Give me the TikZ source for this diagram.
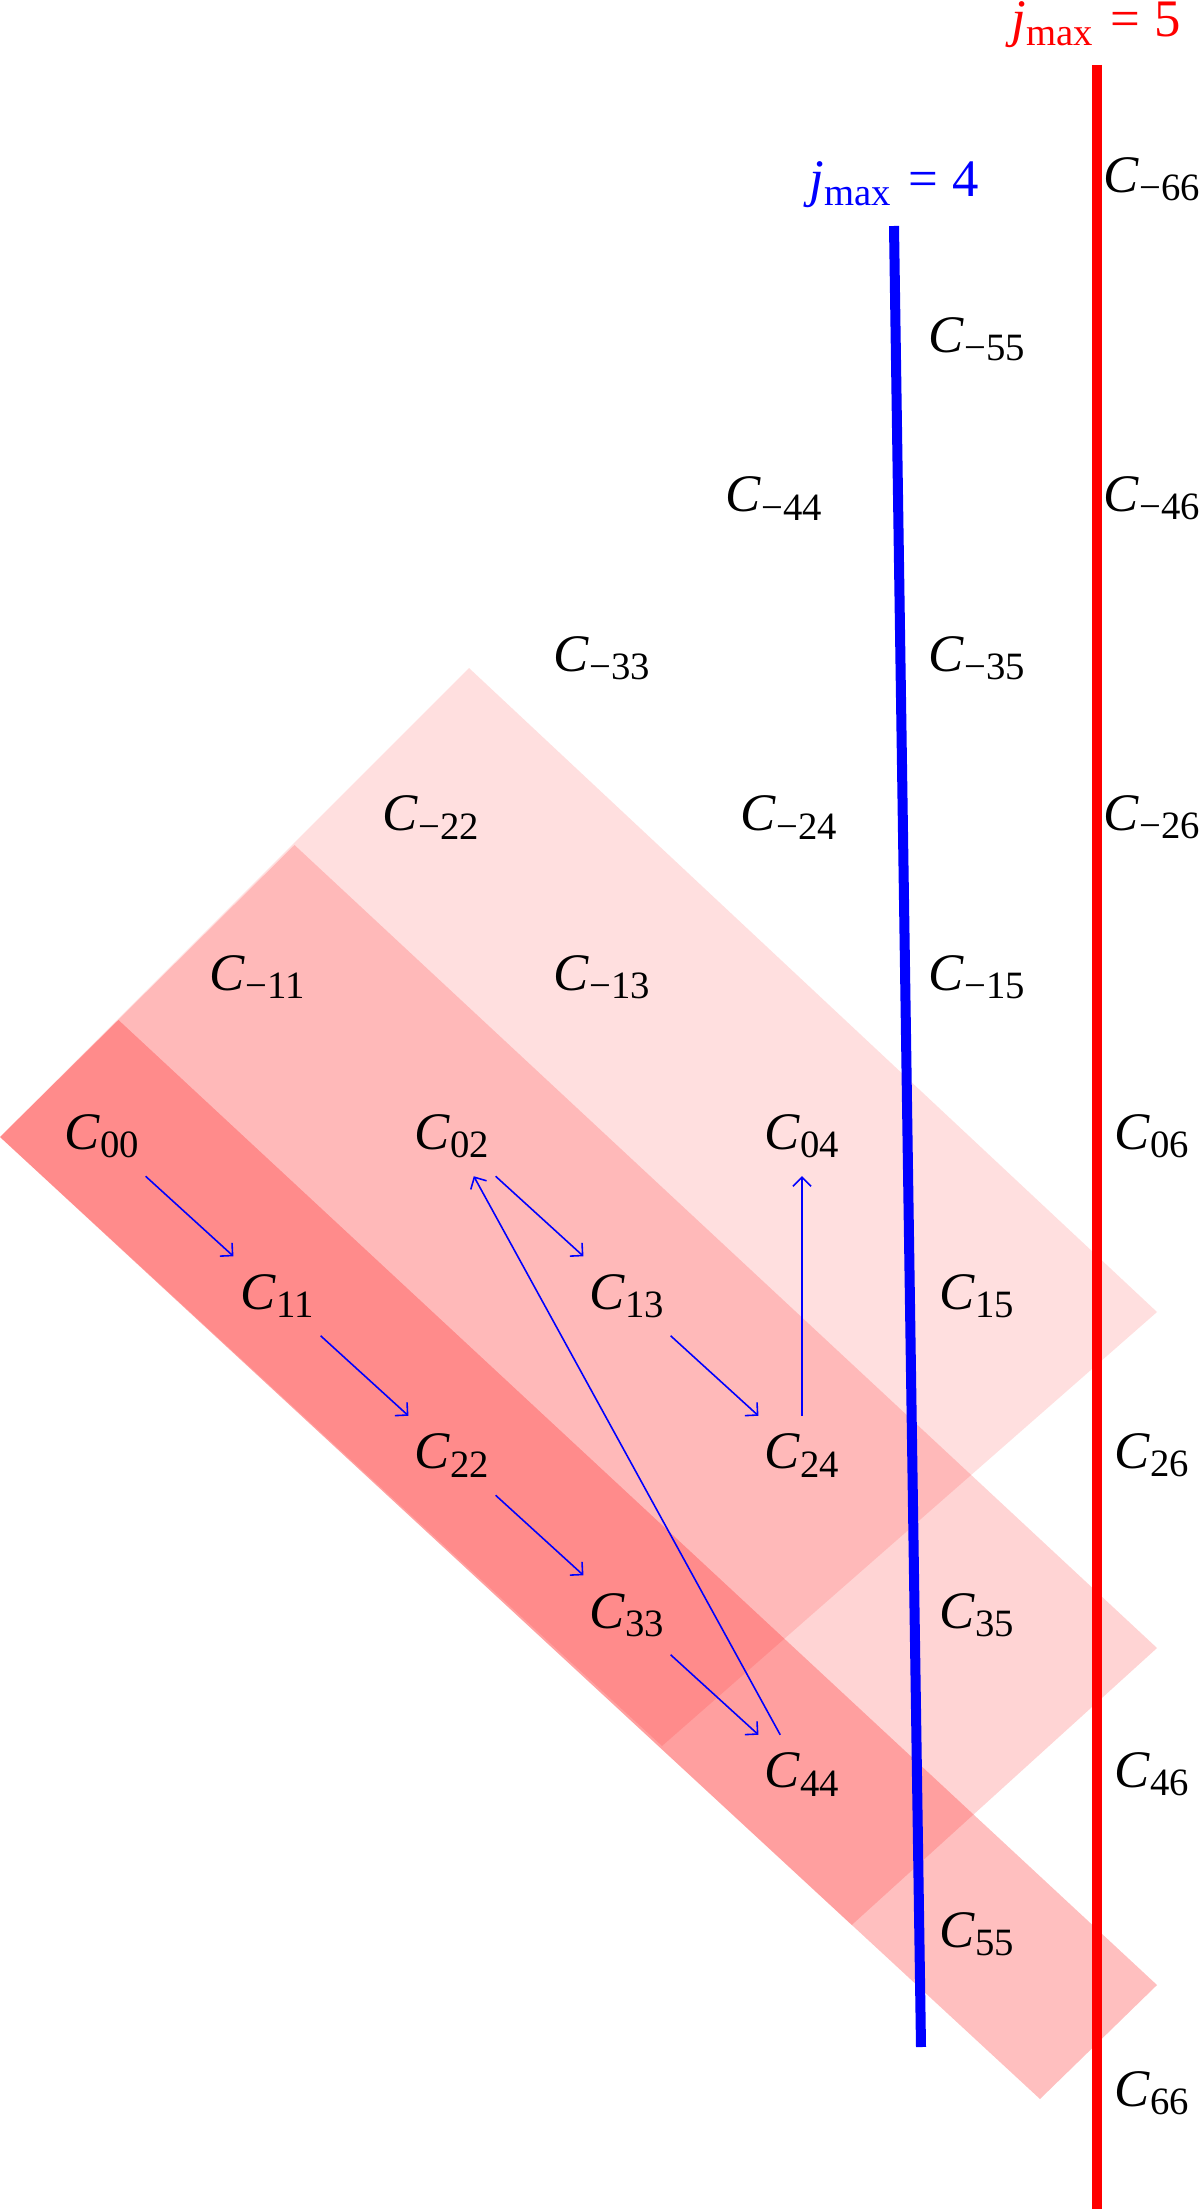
\documentclass[tikz,border=0pt]{standalone}
\usepackage{fontspec}
\setmainfont{Liberation Serif}
\usepackage{tikz}
\usetikzlibrary{arrows.meta}

\newcommand{\Csub}[1]{\textit{C}\raisebox{-2.3pt}{\fontsize{11}{11}\selectfont #1}}
\newcommand{\jmx}[1]{\textit{j}\raisebox{-2.3pt}{\fontsize{11}{11}\selectfont max}\hspace{5pt}=\hspace{4pt}#1}

\begin{document}
\begin{tikzpicture}[x=0.01cm,y=-0.01cm]
\useasboundingbox (0,0) rectangle (1200,2209);

\begin{scope}[band/.style={fill=red,fill opacity=#1}]
    \fill[band=0.25]  (0,1137) -- (118.5,1020) -- (1157,1985) -- (1040,2099) -- cycle;
    \fill[band=0.17]  (0,1137) -- (294.5,845) -- (1157,1648) -- (851.7,1925) -- cycle;
    \fill[band=0.125] (0,1137) -- (469,668) -- (1157,1312) -- (662,1746) -- cycle;
    \end{scope}

\coordinate (bluetop) at (894,226);
\coordinate (bluebot) at (921,2047);
\coordinate (redtop) at (1096.5,65);
\coordinate (redbot) at (1096.5,2209);
\draw[blue,line width=0.1cm] (bluetop) -- (bluebot);
\draw[red,line width=0.1cm] (redtop) -- (redbot);

\node[text=blue,anchor=base,inner sep=0pt,font=\fontsize{15}{18}\selectfont] (jfour) at (894,197) {\jmx{4}};
\node[text=red,anchor=base,inner sep=0pt,font=\fontsize{15}{18}\selectfont] (jfive) at (1096,37) {\jmx{5}};

\begin{scope}[every node/.style={font=\fontsize{15}{18}\selectfont,inner sep=0pt,
                                 minimum width=0.9cm,minimum height=0.78cm}]
    \node (c00) at (102,1136.5) {\Csub{00}};
    \node (c02) at (452,1136.5) {\Csub{02}};
    \node (c04) at (802,1136.5) {\Csub{04}};
    \node (c06) at (1152,1136.5) {\Csub{06}};
    \node (c11) at (277,1296) {\Csub{11}};
    \node (c13) at (627,1296) {\Csub{13}};
    \node (c15) at (977,1296) {\Csub{15}};
    \node (c22) at (452,1455.5) {\Csub{22}};
    \node (c24) at (802,1455.5) {\Csub{24}};
    \node (c26) at (1152,1455.5) {\Csub{26}};
    \node (c33) at (627,1615) {\Csub{33}};
    \node (c35) at (977,1615) {\Csub{35}};
    \node (c44) at (802,1774.5) {\Csub{44}};
    \node (c46) at (1152,1774.5) {\Csub{46}};
    \node (c55) at (977,1934) {\Csub{55}};
    \node (c66) at (1152,2093.5) {\Csub{66}};

    \node (cm11) at (257,977) {\Csub{−11}};
    \node (cm13) at (602,977) {\Csub{−13}};
    \node (cm15) at (977,977) {\Csub{−15}};
    \node (cm22) at (431,817.5) {\Csub{−22}};
    \node (cm24) at (789,817.5) {\Csub{−24}};
    \node (cm26) at (1152,817.5) {\Csub{−26}};
    \node (cm33) at (602,658) {\Csub{−33}};
    \node (cm35) at (977,658) {\Csub{−35}};
    \node (cm44) at (774,498.5) {\Csub{−44}};
    \node (cm46) at (1152,498.5) {\Csub{−46}};
    \node (cm55) at (977,339) {\Csub{−55}};
    \node (cm66) at (1152,179.5) {\Csub{−66}};
    \end{scope}

\begin{scope}[>={Straight Barb[length=0.9mm,width=1.8mm]},
              every edge/.style={draw=blue,line width=0.45pt}]
    \path [->] (c00) edge (c11);
    \path [->] (c11) edge (c22);
    \path [->] (c22) edge (c33);
    \path [->] (c33) edge (c44);
    \path [->] (c44) edge (c02);
    \path [->] (c02) edge (c13);
    \path [->] (c13) edge (c24);
    \path [->] (c24) edge (c04);
    \end{scope}

\end{tikzpicture}
\end{document}
